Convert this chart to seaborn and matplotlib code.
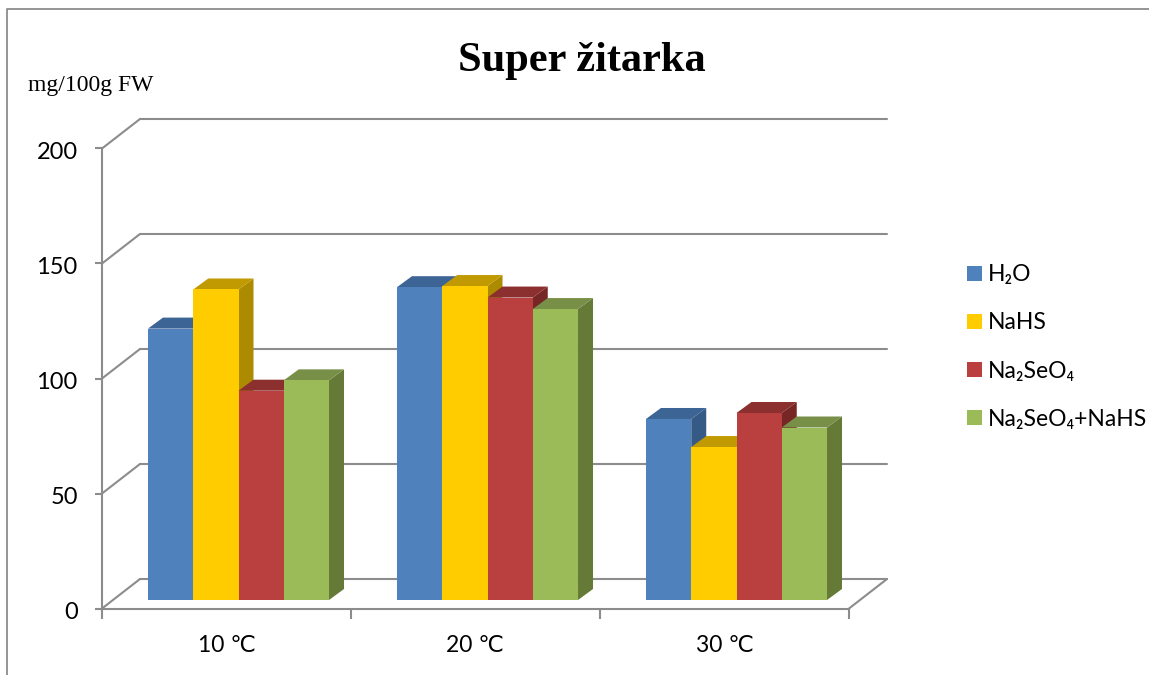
import matplotlib
matplotlib.use('Agg')
import matplotlib.pyplot as plt
from matplotlib.lines import Line2D
from matplotlib.patches import Polygon
from matplotlib.transforms import Affine2D
import pandas as pd
import seaborn as sns

temps = ['10 ℃', '20 ℃', '30 ℃']
treatments = ['H₂O', 'NaHS', 'Na₂SeO₄', 'Na₂SeO₄+NaHS']
h2o = [118, 136, 78.7]
nahs = [135, 136.5, 66.5]
na2seo4 = [91, 131.5, 81.3]
both = [95.5, 126.5, 75]
y_ticks = [0, 50, 100, 150, 200]

front_colors = ['#4F81BD', '#FFCC00', '#BA4040', '#9BBB59']
top_colors = ['#3C6494', '#C09A00', '#8C2F2F', '#788F48']
side_colors = ['#355A86', '#AD8B00', '#772626', '#667A38']
grey = '#8C8C8C'

W, H = 1149, 675


def box(left, top, right, bottom):
    """Axes rectangle from pixel edges measured from the top left."""
    return [left / W, 1 - bottom / H, (right - left) / W, (bottom - top) / H]


sns.set_theme(style='white')
plt.rcParams['font.family'] = ['Lato', 'DejaVu Sans']

df = pd.DataFrame({
    'temp': temps * 4,
    'treatment': [t for t in treatments for _ in temps],
    'value': h2o + nahs + na2seo4 + both,
})

fig = plt.figure(figsize=(W / 100, H / 100), dpi=100, facecolor='white')

# front plane carries the axis lines, ticks and labels
ax = fig.add_axes(box(102, 148.5, 849, 608.5))
ax.set_xlim(-0.5, 2.5)
ax.set_ylim(0, 200)
ax.set_facecolor('none')
for side in ['top', 'right']:
    ax.spines[side].set_visible(False)
for side in ['left', 'bottom']:
    ax.spines[side].set_color(grey)
    ax.spines[side].set_linewidth(1.5)
ax.set_yticks(y_ticks)
ax.set_xticks([-0.5, 0.5, 1.5, 2.5])
ax.set_xticklabels([])
ax.set_xticks([0, 1, 2], minor=True)
ax.set_xticklabels(temps, minor=True)
ax.tick_params(axis='y', left=True, length=5, width=1.5, color=grey,
               labelsize=17, labelcolor='black', pad=12.5)
ax.tick_params(axis='x', which='major', bottom=True, length=7, width=1.5,
               color=grey)
ax.tick_params(axis='x', which='minor', bottom=False, length=0, labelsize=16.5,
               labelcolor='black', pad=19)
for label in ax.get_yticklabels():
    label.set_transform(label.get_transform() + Affine2D().translate(0, -2))

# back wall and floor, the front plane pushed back by a pixel offset
back = ax.transData + Affine2D().translate(38, 29.5)
for value in y_ticks:
    ax.plot([-0.5, 2.5], [value, value], color=grey, lw=1.5, transform=back,
            clip_on=False, solid_capstyle='round')
    start = ax.transData.transform((-0.5, value))
    ax.add_line(Line2D([start[0], start[0] + 38], [start[1], start[1] + 29.5],
                       color=grey, lw=1.5, transform=None, clip_on=False))
start = ax.transData.transform((2.5, 0))
ax.add_line(Line2D([start[0], start[0] + 38], [start[1], start[1] + 29.5],
                   color=grey, lw=1.5, transform=None, clip_on=False))

# bars stand a little inside the box
ax_bars = fig.add_axes(box(114, 140, 861, 600))
ax_bars.set_facecolor('none')
sns.barplot(data=df, x='temp', y='value', hue='treatment', order=temps,
            hue_order=treatments, palette=front_colors, saturation=1,
            width=0.727, gap=0, errorbar=None, linewidth=0, ax=ax_bars)
ax_bars.set_xlim(-0.5, 2.5)
ax_bars.set_ylim(0, 200)
ax_bars.axis('off')

bars = []
for i, container in enumerate(ax_bars.containers):
    for bar in container:
        bars.append((bar.get_x(), i, bar))
bars.sort(key=lambda item: item[0])

depth_x, depth_y = 15, 11
for order, (_, i, bar) in enumerate(bars):
    x0, y0 = ax_bars.transData.transform((bar.get_x(), 0))
    x1, y1 = ax_bars.transData.transform((bar.get_x() + bar.get_width(),
                                          bar.get_height()))
    z = 3 + order * 3
    ax_bars.add_patch(Polygon(
        [(x1, y0), (x1 + depth_x, y0 + depth_y), (x1 + depth_x, y1 + depth_y),
         (x1, y1)], closed=True, facecolor=side_colors[i], edgecolor='none',
        transform=None, clip_on=False, zorder=z))
    ax_bars.add_patch(Polygon(
        [(x0, y1), (x0 + depth_x, y1 + depth_y), (x1 + depth_x, y1 + depth_y),
         (x1, y1)], closed=True, facecolor=top_colors[i], edgecolor='none',
        transform=None, clip_on=False, zorder=z + 1))
    bar.set_zorder(z + 2)

handles, labels = ax_bars.get_legend_handles_labels()
ax_bars.get_legend().remove()
legend = fig.legend(handles, labels, loc='center left',
                    bbox_to_anchor=(967 / W, 1 - 347 / H), frameon=False,
                    fontsize=16.5, labelspacing=1.18, handlelength=0.66,
                    handleheight=0.66, handletextpad=0.23, borderpad=0,
                    borderaxespad=0, labelcolor='black')

fig.text(582 / W, 1 - 61 / H, 'Super žitarka', ha='center', va='center',
         family='Liberation Serif', weight='bold', fontsize=30.5, color='black')
fig.text(28 / W, 1 - 85 / H, 'mg/100g FW', ha='left', va='center',
         family='Liberation Serif', fontsize=17, color='black')

# outer chart frame, cut off by the picture on the right and at the bottom
fig.add_artist(Line2D([7 / W, 7 / W, 1], [0, 1 - 9 / H, 1 - 9 / H],
                      color=grey, lw=1.3, transform=fig.transFigure))

fig.savefig('out.png', dpi=100)
plt.close(fig)
